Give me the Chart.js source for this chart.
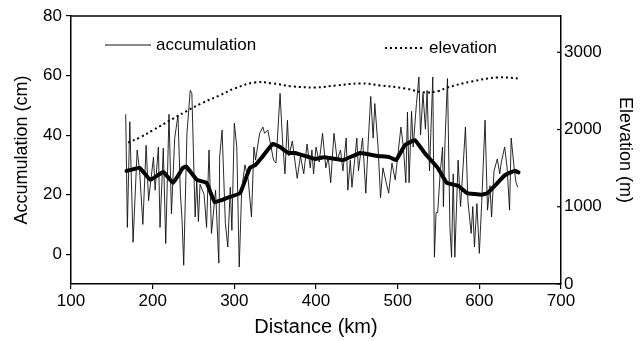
<!DOCTYPE html>
<html><head><meta charset="utf-8">
<script src="https://cdn.jsdelivr.net/npm/chart.js@4/dist/chart.umd.min.js"></script>
<style>html,body{margin:0;padding:0;background:#fff}#wrap{width:643px;height:341px}</style>
</head><body><div id="wrap"><canvas id="c"></canvas></div>
<script>
const rawKm = [167,169,172,176,181,184,188,192,195,201,203,207,209,213,216,220,223,227,231,234,236,238,242,246,248,252,254,256,258,263,266,269,272,277,281,282,285,289,292,295,297,300,303,306,309,313,317,321,324,326,331,335,337,341,345,348,351,356,359,362,365,367,371,377,381,385,389,393,395,397,400,404,408,412,415,418,422,426,430,433,437,439,442,444,450,452,457,461,464,467,470,472,476,479,482,486,489,493,497,504,507,510,512,514,517,519,523,526,528,531,534,536,539,543,545,547,549,552,555,556,558,561,564,566,568,570,574,577,580,583,586,590,592,594,597,600,603,607,610,613,615,618,622,625,627,631,634,637,639,643,645,647];
const rawCm = [47,9,44.5,4,35,28,10,36.6,18,32.6,21.5,36,9,35.6,3.6,47,13.6,39,46.7,20,11.4,-3.7,40.6,55,54,12.5,25,11,23.5,20,9,35,7,21.5,-3,32.6,41.7,10.4,2.4,22.5,8,44,36,-4.3,21.5,30,25,12.5,36,31.6,40.6,42.7,40.6,41.7,36,31.6,30.6,54,38,27,45,33,38,25.5,33,27,37,29,35,27,36,31,40.6,29,32.6,24,40.6,31.6,35,28,39,21.5,31.6,22.5,39,28,39,20.5,38,53,39,50.6,36,19,29,24,20.5,30.6,25,42.7,36,24,47.7,24,48,36,50.6,59.5,40,54,42,55,28,59.5,-1,14,14,27,36,16,38,59,9,-1,27,-1,31.6,16,29,42.7,18,7,16,2.4,17,0.3,18,45,14.8,23,12.5,28,32,27,31,36,29,14.8,39,28,24,22.5];
const smoothKm = [168,184,197,213,225,237,241,254,266,276,292,307,319,326,334,347,356,366,374,392,399,410,433,454,475,490,498,509,521,533,549,560,574,585,603,610,619,631,643,648];
const smoothCm = [28,29,25,27.6,24,29,29.5,25,24,17.5,19,20.5,29,30,32.6,37,36,34,34,32.6,32,32.6,31.6,34,33,32.6,31.6,36.6,38.3,34,29,24,23,20.5,20,20.5,23,26.5,28,27.5];
const elevKm = [170,185,200,221,240,260,282,300,325,345,370,399,425,454,480,509,533,550,561,591,623,647];
const elevM = [1830,1900,1990,2117,2230,2340,2442,2530,2610,2600,2560,2545,2570,2597,2570,2532,2480,2500,2545,2623,2675,2662];
const xTicks = [100,200,300,400,500,600,700];
const yTicks = [0,20,40,60,80];
const y2Ticks = [0,1000,2000,3000];
const labels = {acc:'accumulation', elev:'elevation'};

const pts = (xs, ys) => xs.map((x,i)=>({x, y: ys[i]}));
const FONT = 'Liberation Sans, Arial, sans-serif';

const framePlugin = {
  id: 'frame',
  afterDraw(chart) {
    const {ctx, chartArea: a} = chart;
    ctx.save();
    ctx.strokeStyle = '#000';
    ctx.lineWidth = 1.5;
    ctx.beginPath();
    ctx.moveTo(a.left, a.top); ctx.lineTo(a.right, a.top);
    ctx.stroke();
    const s2 = chart.scales.y2;
    ctx.lineWidth = 1.2;
    s2.ticks.forEach(t => {
      const y = s2.getPixelForValue(t.value);
      ctx.beginPath(); ctx.moveTo(a.right - 4, y); ctx.lineTo(a.right, y); ctx.stroke();
    });
    const dsA = chart.data.datasets[0], dsE = chart.data.datasets[2];
    ctx.font = '17px ' + FONT;
    ctx.fillStyle = '#000';
    ctx.textBaseline = 'middle';
    let ly = a.top + 29;
    ctx.strokeStyle = dsA.borderColor; ctx.lineWidth = 1.2; ctx.setLineDash([]);
    ctx.beginPath(); ctx.moveTo(a.left + 34, ly); ctx.lineTo(a.left + 80, ly); ctx.stroke();
    ctx.fillText(dsA.label, a.left + 85, ly);
    ly = a.top + 32;
    ctx.strokeStyle = dsE.borderColor; ctx.lineWidth = 2; ctx.setLineDash(dsE.borderDash);
    ctx.beginPath(); ctx.moveTo(a.left + 314, ly); ctx.lineTo(a.left + 352, ly); ctx.stroke();
    ctx.setLineDash([]);
    ctx.fillText(dsE.label, a.left + 358, ly);
    ctx.restore();
  }
};

new Chart(document.getElementById('c'), {
  type: 'line',
  data: {
    datasets: [
      {label: labels.acc, data: pts(rawKm, rawCm), yAxisID: 'y', borderColor: '#111', borderWidth: 0.9, pointRadius: 0, tension: 0},
      {label: labels.acc + ' (smoothed)', data: pts(smoothKm, smoothCm), yAxisID: 'y', borderColor: '#000', borderWidth: 4, pointRadius: 0, tension: 0.1, borderJoinStyle: 'round', borderCapStyle: 'round'},
      {label: labels.elev, data: pts(elevKm, elevM), yAxisID: 'y2', borderColor: '#000', borderWidth: 2, borderDash: [2, 3], pointRadius: 0, tension: 0.4}
    ]
  },
  options: {
    responsive: true, maintainAspectRatio: false, animation: false,
    layout: {padding: {top: 16, left: 0, right: 0, bottom: 0}},
    plugins: {legend: {display: false}, tooltip: {enabled: false}},
    scales: {
      x: {
        type: 'linear', min: 100, max: 700,
        afterBuildTicks: s => { s.ticks = xTicks.map(v => ({value: v})); },
        afterFit: s => { s.height = 57; },
        grid: {drawOnChartArea: false, drawTicks: true, tickLength: 5, color: '#000', lineWidth: 1.2},
        border: {display: true, color: '#000', width: 1.5},
        ticks: {color: '#000', font: {family: FONT, size: 17}, padding: 2, maxRotation: 0, callback: v => String(v)},
        title: {display: true, text: 'Distance (km)', color: '#000', font: {family: FONT, size: 20}, padding: {top: 0, bottom: 2}}
      },
      y: {
        type: 'linear', position: 'left', min: -10, max: 80,
        afterBuildTicks: s => { s.ticks = yTicks.map(v => ({value: v})); },
        afterFit: s => { s.width = 71; },
        grid: {drawOnChartArea: false, drawTicks: true, tickLength: 5, color: '#000', lineWidth: 1.2},
        border: {display: true, color: '#000', width: 1.5},
        ticks: {color: '#000', font: {family: FONT, size: 17}, padding: 4, callback: v => String(v)},
        title: {display: true, text: 'Accumulation (cm)', color: '#000', font: {family: FONT, size: 18}, padding: {top: 11, bottom: 0}}
      },
      y2: {
        type: 'linear', position: 'right', min: 0, max: 3470,
        afterBuildTicks: s => { s.ticks = y2Ticks.map(v => ({value: v})); },
        afterFit: s => { s.width = 82; },
        grid: {display: true, drawOnChartArea: false, drawTicks: false},
        border: {display: true, color: '#000', width: 1.5},
        ticks: {color: '#000', font: {family: FONT, size: 17}, padding: 3, callback: v => String(v)},
        title: {display: true, text: 'Elevation (m)', color: '#000', font: {family: FONT, size: 18}, padding: {top: 7, bottom: 0}}
      }
    }
  },
  plugins: [framePlugin]
});
</script>
</body></html>
